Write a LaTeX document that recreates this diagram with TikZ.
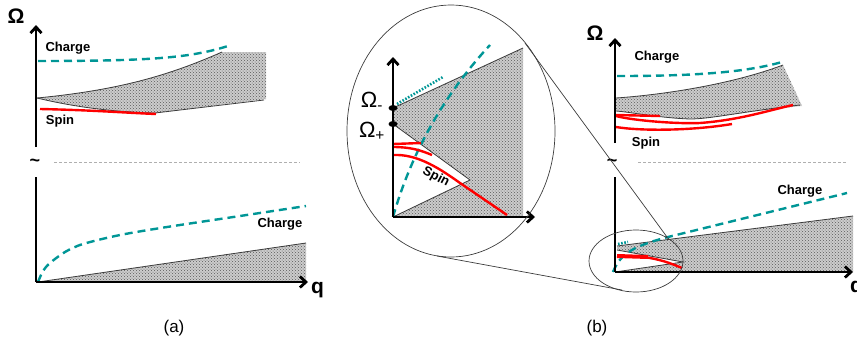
\documentclass[tikz,border=0pt]{standalone}
\usepackage{fontspec}
\setmainfont{Liberation Sans}
\usetikzlibrary{arrows.meta,patterns,shapes.geometric}
\definecolor{tealc}{RGB}{0,150,150}
\definecolor{redc}{RGB}{255,0,0}
\definecolor{edgec}{RGB}{60,60,60}
\definecolor{sepc}{RGB}{175,175,175}
\tikzset{
  axis/.style={line width=2.8pt,black},
  axisarrow/.style={axis,-{Straight Barb[length=6pt,width=11pt]}},
  shaded/.style={pattern=crosshatch dots,pattern color=black!65,preaction={fill=black!20}},
  edge/.style={line width=0.8pt,edgec},
  charge/.style={line width=2.4pt,tealc,dash pattern=on 8pt off 5pt},
  chargedot/.style={line width=2.6pt,tealc,dash pattern=on 1.6pt off 1.6pt},
  spin/.style={line width=2.4pt,redc},
  sep/.style={line width=0.7pt,sepc,dash pattern=on 3pt off 2pt},
  lens/.style={line width=0.7pt,edgec},
  lbl/.style={font=\fontsize{13}{15}\selectfont\bfseries,inner sep=0pt},
  tld/.style={font=\fontsize{18}{20}\selectfont\bfseries,inner sep=0pt},
  biglbl/.style={font=\fontsize{21}{23}\selectfont\bfseries,inner sep=0pt},
  omlbl/.style={font=\fontsize{22}{24}\selectfont,inner sep=0pt},
  caplbl/.style={font=\fontsize{17}{19}\selectfont,inner sep=0pt}
}
\begin{document}
\begin{tikzpicture}[x=1pt,y=-1pt]
\useasboundingbox (0,0) rectangle (857,341);

% ================= panel (a) =================
\coordinate (aTop0) at (36,147);
\coordinate (aTop1) at (36,25);
\coordinate (aO) at (36,282);
\coordinate (aY) at (36,177);
\coordinate (aX) at (308,282);
% upper shaded band
\fill[shaded] (37,98) .. controls (120,90) and (170,75) .. (222,52) -- (266,52) -- (266,99)
  -- (155,113) .. controls (110,112) and (70,106) .. (37,98) -- cycle;
\draw[edge] (37,98) .. controls (120,90) and (170,75) .. (222,52);
\draw[edge] (37,98) .. controls (70,106) and (110,112) .. (155,113) -- (264,100);
\draw[charge] (38,61) .. controls (150,61) and (190,58) .. (228,46);
\draw[spin] (40,109) .. controls (90,110) and (130,113) .. (156,114);
\draw[axisarrow] (aTop0) -- (aTop1);
\node[biglbl] (aOm) at (16,16) {Ω};
\node[lbl] (aCh1) at (68,48) {Charge};
\node[lbl] (aSp) at (60,121) {Spin};
\node[tld] (aT) at (35,163) {\textasciitilde};
\draw[sep] (54,162) -- (300,162);
% lower part
\fill[shaded] (38,282) -- (306,243) -- (306,282) -- cycle;
\draw[edge] (38,282) -- (306,243);
\draw[charge] plot[smooth] coordinates {(38,282) (43,271) (50,263) (65,252) (83,244) (120,235) (167,227) (240,216) (306,206)};
\draw[axis] (aY) -- (aO);
\draw[axisarrow] (aO) -- (aX);
\node[lbl] (aCh2) at (280,224) {Charge};
\node[biglbl,anchor=west] (aq) at (311,290) {q};
\node[caplbl] (acap) at (174,328) {(a)};

% ================= panel (b) inset =================
\fill[shaded] (393,108) -- (523,48) -- (523,217) -- (393,217) -- (470,180) -- (393,124) -- cycle;
\draw[edge] (393,108) -- (523,48);
\draw[edge] (393,124) -- (470,180) -- (393,217);
\draw[chargedot] (397,104) -- (443,77);
\draw[charge] (393,217) .. controls (405,175) and (430,110) .. (490,45);
\draw[spin] (393,144) -- (421,143);
\draw[spin] (393,147) .. controls (410,147) and (420,150) .. (432,155);
\draw[spin] (393,155) .. controls (415,154) and (435,165) .. (460,183) -- (507,215);
\draw[axisarrow] (393,217) -- (393,57);
\draw[axisarrow] (393,217) -- (535,217);
\fill[black] (393,108) ellipse [x radius=4.5pt,y radius=3pt];
\fill[black] (393,124) ellipse [x radius=4.5pt,y radius=3pt];
\node[omlbl] (om1) at (372,101) {Ω\textsubscript{-}};
\node[omlbl] (om2) at (372,131) {Ω\textsubscript{+}};
\node[lbl,rotate=-28] (iSp) at (436,177) {Spin};
\node[lens,draw,ellipse,minimum width=208pt,minimum height=252pt] (big) at (451,131) {};

% ================= panel (b) main =================
% upper
\fill[shaded] (616,98) .. controls (660,95) and (730,85) .. (783,65) -- (802,106)
  .. controls (740,112) and (710,119) .. (690,119) .. controls (660,118) and (630,112) .. (616,111) -- cycle;
\draw[edge] (616,98) .. controls (660,95) and (730,85) .. (783,65);
\draw[edge] (800,105) .. controls (740,112) and (710,119) .. (690,119) .. controls (660,118) and (630,112) .. (616,111);
\draw[charge] (617,76) .. controls (680,76) and (740,74) .. (782,62);
\draw[spin] (616,115) -- (660,116);
\draw[spin] (616,116) .. controls (635,121) and (680,124) .. (700,123) .. controls (740,120) and (770,110) .. (793,105);
\draw[spin] (616,127) .. controls (640,131) and (690,131) .. (732,124);
\draw[axisarrow] (615,143) -- (615,38);
\node[biglbl] (bOm) at (595,33) {Ω};
\node[lbl] (bCh1) at (657,57) {Charge};
\node[lbl] (bSp) at (646,143) {Spin};
\node[tld] (bT) at (612,163) {\textasciitilde};
\draw[sep] (638,162) -- (847,162);
% lower
\fill[shaded] (617,246) -- (853,216) -- (853,272) -- (615,272) -- (683,262) -- (617,250) -- cycle;
\draw[edge] (617,246) -- (853,216);
\draw[edge] (617,250) -- (683,262) -- (615,272);
\draw[chargedot] (618,244) -- (628,242);
\draw[charge] (613,272) .. controls (620,255) and (630,247) .. (668,237) -- (847,193);
\draw[redc,line width=4pt] (617,256) -- (648,257);
\draw[spin] (640,256.5) .. controls (660,259) and (670,263) .. (682,268);
\draw[axis] (615,177) -- (615,272);
\draw[axisarrow] (615,272) -- (853,272);
\node[lbl] (bCh2) at (800,191) {Charge};
\node[biglbl,anchor=west] (bq) at (850,289) {q};
\node[caplbl] (bcap) at (597,328) {(b)};
\node[lens,draw,ellipse,minimum width=94pt,minimum height=62pt] (small) at (636,261) {};
% zoom connectors
\coordinate (c1) at (525,43);
\coordinate (c2) at (437,256);
\coordinate (s1) at (667,237);
\coordinate (s2) at (622,290);
\draw[lens] (c1) -- (s1);
\draw[lens] (c2) -- (s2);
\end{tikzpicture}
\end{document}
